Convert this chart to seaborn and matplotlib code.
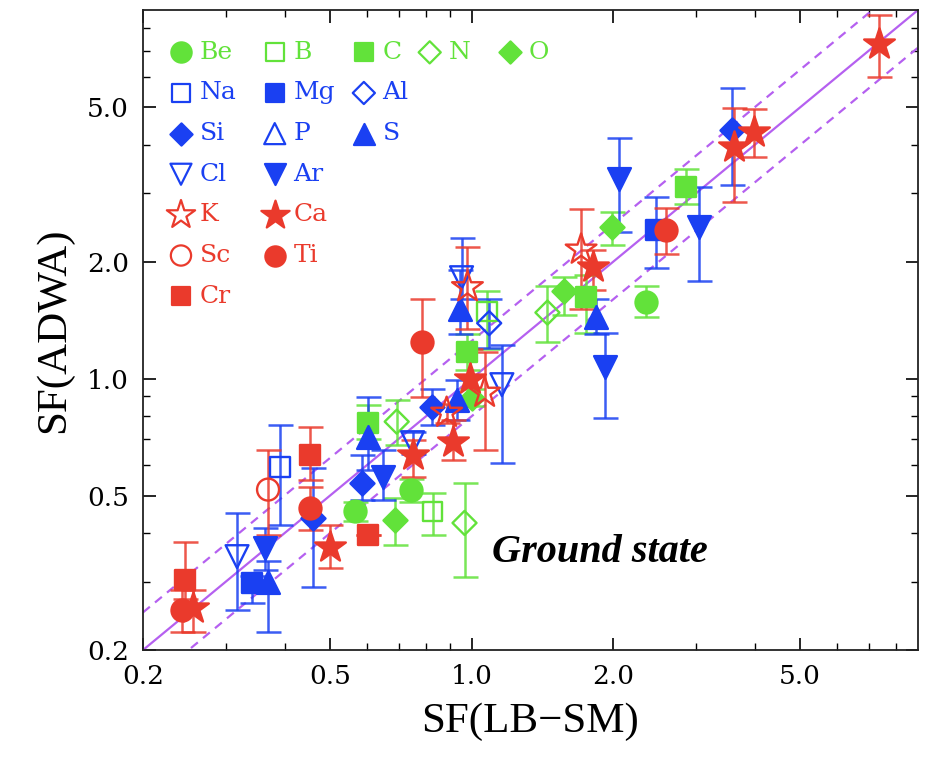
import matplotlib.pyplot as plt
import matplotlib.ticker as mticker
import numpy as np
import pandas as pd
import seaborn as sns

# ---- data (SF from LB-SM vs. SF from ADWA) ----
element = ["Be", "Be", "Be",
           "B", "B",
           "C", "C", "C", "C",
           "N", "N", "N",
           "O", "O", "O", "O",
           "Na",
           "Mg", "Mg",
           "Al",
           "Si", "Si", "Si", "Si",
           "S", "S", "S", "S", "S",
           "Cl", "Cl", "Cl", "Cl",
           "Ar", "Ar", "Ar", "Ar", "Ar",
           "K", "K", "K", "K",
           "Ca", "Ca", "Ca", "Ca", "Ca", "Ca", "Ca", "Ca", "Ca",
           "Sc",
           "Ti", "Ti", "Ti", "Ti",
           "Cr", "Cr", "Cr"]
sf_lbsm = [0.565, 0.745, 2.35,
           0.826, 1.08,
           0.601, 0.98, 1.75, 2.86,
           0.693, 0.966, 1.45,
           0.686, 1.0, 1.576, 1.99,
           0.391,
           0.341, 2.47,
           1.09,
           0.46, 0.584, 0.822, 3.58,
           0.369, 0.601, 0.929, 0.943, 1.84,
           0.317, 0.749, 0.952, 1.16,
           0.364, 0.647, 2.06, 1.92, 3.05,
           0.885, 0.98, 1.066, 1.71,
           0.255, 0.499, 0.749, 0.911, 0.99, 1.81, 3.62, 3.99, 7.35,
           0.369,
           0.242, 0.453, 0.783, 2.59,
           0.246, 0.453, 0.601]
sf_adwa = [0.455, 0.517, 1.58,
           0.455, 1.49,
           0.77, 1.17, 1.62, 3.11,
           0.775, 0.425, 1.48,
           0.433, 0.893, 1.68, 2.46,
           0.593,
           0.298, 2.42,
           1.39,
           0.438, 0.539, 0.847, 4.38,
           0.30, 0.709, 0.883, 1.51, 1.445,
           0.348, 0.684, 1.82, 0.965,
           0.367, 0.559, 3.26, 1.07, 2.46,
           0.817, 1.72, 0.92, 2.15,
           0.257, 0.369, 0.637, 0.688, 1.0, 1.94, 3.94, 4.33, 7.26,
           0.518,
           0.254, 0.465, 1.245, 2.42,
           0.303, 0.637, 0.396]
err_low = [0.43, 0.48, 1.44,
           0.396, 1.19,
           0.70, 1.05, 1.31, 2.81,
           0.676, 0.309, 1.24,
           0.373, 0.85, 1.46, 2.21,
           0.42,
           0.265, 1.93,
           1.20,
           0.29, 0.488, 0.76, 3.16,
           0.223, 0.583, 0.784, 1.30, 1.30,
           0.254, 0.64, 1.60, 0.607,
           0.322, 0.488, 2.39, 0.794, 1.78,
           0.77, 1.34, 0.656, 1.51,
           0.223, 0.326, 0.559, 0.618, 0.88, 1.69, 2.86, 3.73, 5.97,
           0.396,
           0.223, 0.408, 0.899, 2.09,
           0.27, 0.549, 0.396]
err_high = [0.48, 0.55, 1.73,
            0.508, 1.68,
            0.857, 1.30, 1.85, 3.46,
            0.883, 0.54, 1.73,
            0.494, 0.94, 1.83, 2.69,
            0.761,
            0.31, 2.93,
            1.60,
            0.59, 0.637, 0.94, 5.62,
            0.34, 0.899, 0.99, 1.91, 1.60,
            0.452, 0.73, 2.31, 1.22,
            0.413, 0.656, 4.18, 1.31, 3.12,
            0.86, 2.18, 1.17, 2.73,
            0.286, 0.42, 0.697, 0.784, 1.19, 2.15, 4.99, 4.94, 8.67,
            0.656,
            0.286, 0.527, 1.6, 2.76,
            0.38, 0.752, 0.396]

legend_rows = [["Be", "B", "C", "N", "O"],
               ["Na", "Mg", "Al"],
               ["Si", "P", "S"],
               ["Cl", "Ar"],
               ["K", "Ca"],
               ["Sc", "Ti"],
               ["Cr"]]

# ---- styles ----
GREEN, BLUE, RED = "#62e23a", "#1a40f2", "#ea3a2c"
PURPLE = "#b560f0"
styles = {
    "Be": ("o", GREEN, True), "B": ("s", GREEN, False), "C": ("s", GREEN, True),
    "N": ("D", GREEN, False), "O": ("D", GREEN, True),
    "Na": ("s", BLUE, False), "Mg": ("s", BLUE, True), "Al": ("D", BLUE, False),
    "Si": ("D", BLUE, True), "P": ("^", BLUE, False), "S": ("^", BLUE, True),
    "Cl": ("v", BLUE, False), "Ar": ("v", BLUE, True),
    "K": ("*", RED, False), "Ca": ("*", RED, True),
    "Sc": ("o", RED, False), "Ti": ("o", RED, True), "Cr": ("s", RED, True),
}
sizes = {"o": 250, "s": 200, "D": 150, "^": 270, "v": 270, "*": 540}

df = pd.DataFrame({"element": element, "x": sf_lbsm, "y": sf_adwa,
                   "lo": err_low, "hi": err_high})

sns.set_theme(style="ticks")
plt.rcParams["font.family"] = ["DejaVu Serif"]
plt.rcParams.update({
    "text.color": "black", "axes.labelcolor": "black",
    "xtick.color": "black", "ytick.color": "black",
    "xtick.direction": "in", "ytick.direction": "in",
    "xtick.top": True, "ytick.right": True,
    "xtick.major.size": 9, "ytick.major.size": 9,
    "xtick.minor.size": 5, "ytick.minor.size": 5,
    "xtick.major.width": 1.2, "ytick.major.width": 1.2,
    "xtick.minor.width": 1.0, "ytick.minor.width": 1.0,
})

fig = plt.figure(figsize=(9.28, 7.6), dpi=100)
ax = fig.add_axes([0.1541, 0.1447, 0.835, 0.842])
lim = (0.2, 8.9)

# reference lines: y = x and +/- 25 %
ref = np.array(lim)
ax.plot(ref, ref, color=PURPLE, lw=1.6, zorder=1)
ax.plot(ref, ref * 1.25, color=PURPLE, lw=1.6, ls=(0, (4, 3)), zorder=1)
ax.plot(ref, ref / 1.25, color=PURPLE, lw=1.6, ls=(0, (4, 3)), zorder=1)

for el, (mk, col, filled) in styles.items():
    sub = df[df["element"] == el]
    if sub.empty:
        continue
    ax.errorbar(sub["x"], sub["y"],
                yerr=[sub["y"] - sub["lo"], sub["hi"] - sub["y"]],
                fmt="none", ecolor=col, elinewidth=1.8, capsize=9,
                capthick=1.8, alpha=0.85, zorder=2)
    sns.scatterplot(data=sub, x="x", y="y", ax=ax, marker=mk, s=sizes[mk],
                    color=col, facecolor=col if filled else "none",
                    edgecolor=col, linewidth=1.7, zorder=3, legend=False)

ax.set_xscale("log")
ax.set_yscale("log")
ax.set_xlim(*lim)
ax.set_ylim(*lim)
major = [0.2, 0.5, 1.0, 2.0, 5.0]
minor = [0.3, 0.4, 0.6, 0.7, 0.8, 0.9, 3, 4, 6, 7, 8]
for axis in (ax.xaxis, ax.yaxis):
    axis.set_major_locator(mticker.FixedLocator(major))
    axis.set_minor_locator(mticker.FixedLocator(minor))
    axis.set_major_formatter(mticker.FixedFormatter([f"{v:.1f}" for v in major]))
    axis.set_minor_formatter(mticker.NullFormatter())
ax.tick_params(labelsize=19, pad=10)
for sp in ax.spines.values():
    sp.set_linewidth(1.3)
    sp.set_color("#222222")

ax.set_xlabel("SF(LB\u2212SM)", fontsize=31, family="Liberation Serif", labelpad=10)
ax.set_ylabel("SF(ADWA)", fontsize=31, family="Liberation Serif", labelpad=10)

ax.text(0.59, 0.153, "Ground state", transform=ax.transAxes, ha="center",
        va="center", fontsize=29, family="Liberation Serif",
        fontweight="bold", fontstyle="italic", color="black")

# legend drawn as a block of marker + label entries
col_x = [0.049, 0.170, 0.285, 0.370, 0.474]
for r, row in enumerate(legend_rows):
    yy = 0.934 - r * 0.0635
    for c, el in enumerate(row):
        mk, col, filled = styles[el]
        ax.scatter([col_x[c]], [yy], transform=ax.transAxes, marker=mk,
                   s=sizes[mk] * 0.85, color=col,
                   facecolor=col if filled else "none", edgecolor=col,
                   linewidth=1.6, clip_on=False, zorder=4)
        ax.text(col_x[c] + 0.024, yy, el, transform=ax.transAxes,
                color=col, fontsize=18, va="center", ha="left")

fig.savefig("out.png", dpi=100)
